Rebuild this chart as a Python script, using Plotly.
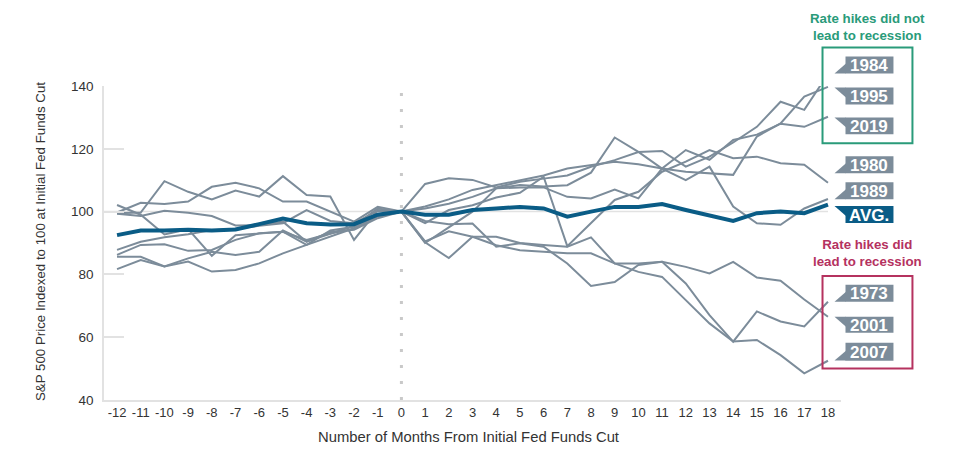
import plotly.graph_objects as go

months = list(range(-12, 19))
tick_labels = [str(m) for m in months]

s1984 = [99.5, 99.7, 109.7, 106.3, 103.9, 106.7, 104.8, 111.3, 105.3, 104.8, 91.0, 100.5, 100,
         108.8, 110.6, 110.1, 107.7, 109.5, 110.5, 111.5, 114.3, 116.4, 119.0, 119.3, 114.3, 117.5,
         122.0, 127.0, 135.0, 132.4, 143.8]
s1995 = [99.7, 102.8, 102.4, 103.2, 107.9, 109.2, 107.4, 103.2, 103.2, 100.0, 96.8, 101.5, 100,
         101.6, 103.9, 106.9, 108.5, 110.0, 111.5, 113.7, 114.8, 115.9, 115.1, 113.7, 112.7, 112.2,
         111.7, 123.9, 128.1, 136.6, 139.7]
s2019 = [87.8, 90.4, 91.8, 92.8, 94.1, 94.5, 95.5, 96.3, 100.5, 97.0, 96.3, 100.2, 100,
         101.0, 102.5, 104.7, 107.4, 107.7, 107.7, 104.7, 104.2, 107.0, 104.2, 113.7, 119.6, 116.5,
         122.8, 124.5, 128.0, 127.0, 130.2]
s1980 = [99.3, 98.6, 100.3, 99.6, 98.6, 95.6, 95.7, 96.8, 90.4, 93.0, 95.5, 101.0, 100,
         96.3, 100.5, 102.0, 104.5, 106.0, 111.1, 89.0, 96.5, 103.7, 106.3, 112.7, 115.9, 119.6,
         117.0, 117.5, 115.4, 114.9, 109.2]
s1989 = [86.2, 89.4, 89.6, 87.5, 87.8, 91.0, 93.1, 93.6, 89.4, 94.0, 95.2, 99.0, 100,
         90.0, 95.0, 100.0, 107.4, 108.5, 108.0, 108.4, 112.4, 123.6, 119.0, 113.7, 110.0, 114.3,
         101.6, 96.3, 95.8, 101.0, 104.0]
s1973 = [85.6, 85.6, 82.5, 85.1, 87.2, 86.2, 87.2, 94.0, 90.4, 93.5, 94.2, 97.9, 100,
         90.2, 85.2, 92.0, 92.0, 90.0, 89.4, 88.8, 91.8, 83.5, 83.5, 84.0, 77.1, 67.0,
         58.6, 68.2, 65.0, 63.4, 71.3]
s2001 = [81.7, 84.6, 82.5, 84.1, 80.9, 81.4, 83.5, 86.7, 89.4, 92.0, 94.7, 98.6, 100,
         97.0, 96.0, 96.2, 88.8, 89.9, 88.8, 83.5, 76.3, 77.6, 83.0, 84.0, 82.4, 80.3,
         84.0, 79.0, 78.0, 72.0, 66.5]
s2007 = [102.1, 99.0, 92.7, 94.4, 85.9, 92.5, 93.0, 93.6, 91.0, 93.0, 94.5, 98.5, 100,
         90.5, 93.7, 92.0, 89.3, 87.7, 87.2, 86.7, 86.7, 83.5, 80.8, 79.2, 71.8, 64.4,
         58.6, 59.1, 54.3, 48.5, 52.5]
avg = [92.5, 94.0, 94.0, 94.2, 94.0, 94.3, 96.0, 97.8, 96.3, 95.9, 96.0, 99.0, 100,
       99.0, 99.0, 100.5, 101.0, 101.5, 101.0, 98.4, 100.0, 101.5, 101.5, 102.4, 100.5, 98.6,
       97.0, 99.5, 100.0, 99.5, 102.2]

series_names = ["1984", "1995", "2019", "1980", "1989", "1973", "2001", "2007"]
series_vals = [s1984, s1995, s2019, s1980, s1989, s1973, s2001, s2007]

GRAY = "#7c8c9a"
BLUE = "#0a5c86"
GREEN = "#2a9b7a"
RED = "#b5325f"
FONT = "Liberation Sans, Arial, sans-serif"

W, H = 960, 453
OFF = 8  # page body margin
L_PX, R_PX = 104, 841.5
T_PX, B_PX = 85.5, 400.5


def px(x):
    return (x - L_PX) / (R_PX - L_PX)


def py(y):
    return (B_PX - y) / (B_PX - T_PX)


fig = go.Figure()
for name, vals in zip(series_names, series_vals):
    fig.add_trace(go.Scatter(x=months, y=vals, mode="lines", name=name,
                             line=dict(color=GRAY, width=2), showlegend=False,
                             hoverinfo="skip"))
fig.add_trace(go.Scatter(x=months, y=avg, mode="lines", name="AVG.",
                         line=dict(color=BLUE, width=4), showlegend=False))

shapes = []
annotations = []

shapes.append(dict(type="line", xref="x", yref="y", x0=-12.55, x1=18, y0=100, y1=100,
                   line=dict(color="#e2e2e2", width=1.5), layer="below"))
shapes.append(dict(type="line", xref="x", yref="y", x0=0, x1=0, y0=40, y1=140,
                   line=dict(color="#c9c9c9", width=3, dash="3px,13px"), layer="below"))

label_specs = [
    ("1984", 56, 73, "bottom", GRAY),
    ("1995", 87, 104, "top", GRAY),
    ("2019", 117, 134, "top", GRAY),
    ("1980", 156, 173, "bottom", GRAY),
    ("1989", 182, 199, "bottom", GRAY),
    ("AVG.", 206, 223, "top", BLUE),
    ("1973", 285, 302, "bottom", GRAY),
    ("2001", 317, 333, "top", GRAY),
    ("2007", 343, 361, "bottom", GRAY),
]
bx0, bx1, tip = 846, 894, 835
for text, t, b, tail, col in label_specs:
    shapes.append(dict(type="rect", xref="paper", yref="paper",
                       x0=px(bx0), x1=px(bx1), y0=py(b), y1=py(t),
                       fillcolor=col, line=dict(width=0)))
    if tail == "bottom":
        pts = [(bx0 + 0.5, b - 10), (tip, b), (bx0 + 0.5, b)]
    else:
        pts = [(tip, t), (bx0 + 0.5, t), (bx0 + 0.5, t + 10)]
    path = "M " + " L ".join(f"{px(a):.5f},{py(c):.5f}" for a, c in pts) + " Z"
    shapes.append(dict(type="path", xref="paper", yref="paper", path=path,
                       fillcolor=col, line=dict(width=0)))
    annotations.append(dict(xref="paper", yref="paper", x=px((bx0 + bx1) / 2),
                            y=py((t + b) / 2 + 0.5), text=f"<b>{text}</b>", showarrow=False,
                            xanchor="center", yanchor="middle",
                            font=dict(family=FONT, size=17, color="white")))

shapes.append(dict(type="rect", xref="paper", yref="paper", x0=px(823), x1=px(913),
                   y0=py(143), y1=py(47), line=dict(color=GREEN, width=2)))
shapes.append(dict(type="rect", xref="paper", yref="paper", x0=px(823), x1=px(913),
                   y0=py(369), y1=py(276), line=dict(color=RED, width=2)))
annotations.append(dict(xref="paper", yref="paper", x=px(868), y=py(26),
                        text="<b>Rate hikes did not<br>lead to recession</b>", showarrow=False,
                        xanchor="center", yanchor="middle", align="center",
                        font=dict(family=FONT, size=13.3, color=GREEN)))
annotations.append(dict(xref="paper", yref="paper", x=px(868), y=py(253.5),
                        text="<b>Rate hikes did<br>lead to recession</b>", showarrow=False,
                        xanchor="center", yanchor="middle", align="center",
                        font=dict(family=FONT, size=13.3, color=RED)))

annotations.append(dict(xref="paper", yref="paper", x=px(40), y=py(242),
                        text="S&P 500 Price Indexed to 100 at Initial Fed Funds Cut",
                        textangle=-90, showarrow=False, xanchor="center", yanchor="middle",
                        font=dict(family=FONT, size=13.3, color="#333333")))
annotations.append(dict(xref="paper", yref="paper", x=px(469), y=py(438),
                        text="Number of Months From Initial Fed Funds Cut",
                        showarrow=False, xanchor="center", yanchor="middle",
                        font=dict(family=FONT, size=14.8, color="#333333")))

fig.update_layout(
    width=W, height=H,
    margin=dict(l=L_PX - OFF, r=W - (R_PX - OFF), t=T_PX - OFF, b=H - (B_PX - OFF), pad=0),
    paper_bgcolor="white", plot_bgcolor="white",
    font=dict(family=FONT, size=13, color="#333333"),
    shapes=shapes, annotations=annotations,
    xaxis=dict(range=[-12.55, 18.55], tickmode="array", tickvals=months, ticktext=tick_labels,
               showgrid=False, zeroline=False, showline=True, linecolor="#e2e2e2", linewidth=1.5,
               ticks="", tickfont=dict(size=13, color="#333333")),
    yaxis=dict(range=[40, 140], tickvals=[40, 60, 80, 100, 120, 140], showgrid=False,
               zeroline=False, showline=True, linecolor="#e2e2e2", linewidth=1.5,
               ticks="inside", ticklen=20, tickcolor="#e2e2e2", tickwidth=1.5,
               ticklabelstandoff=6, tickfont=dict(size=13.5, color="#333333")),
)

fig.write_html("out.html")
